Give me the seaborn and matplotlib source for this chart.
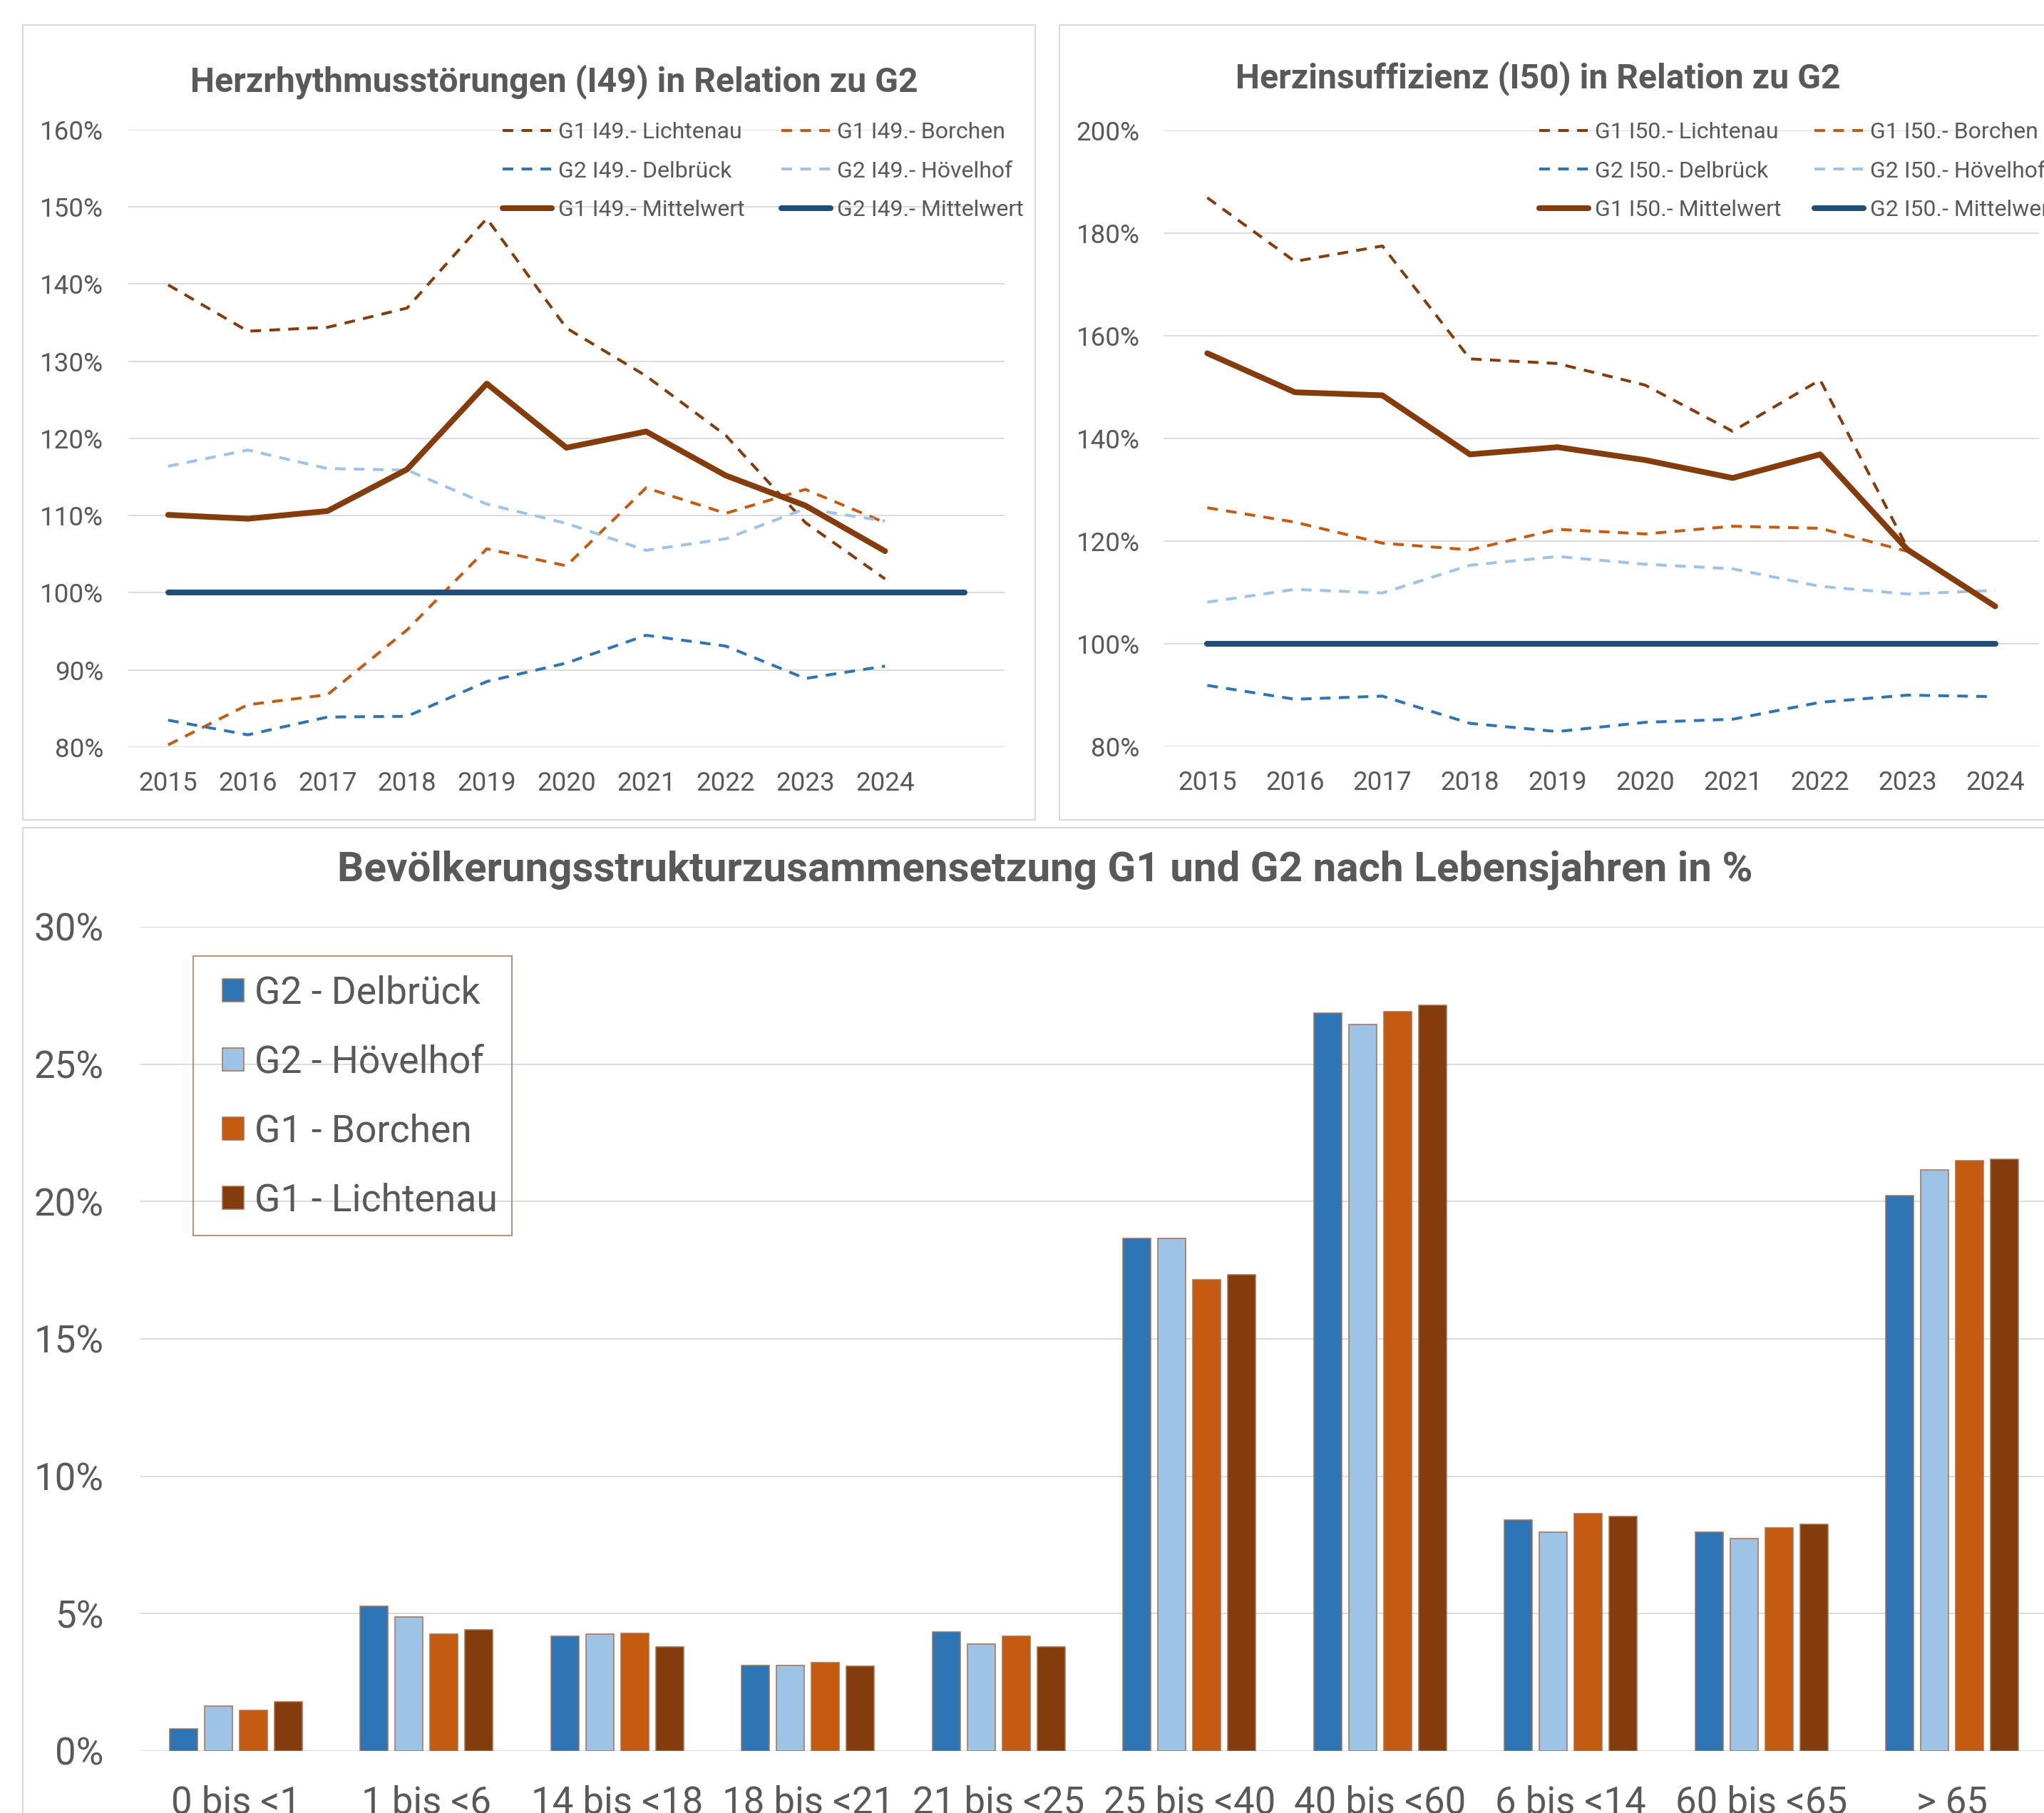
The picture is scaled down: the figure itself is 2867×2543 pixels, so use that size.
import numpy as np
import pandas as pd
import matplotlib
matplotlib.use("Agg")
import matplotlib.pyplot as plt
from matplotlib.patches import Rectangle, Patch
from matplotlib.ticker import PercentFormatter, MultipleLocator
import seaborn as sns

# ------------------------------------------------------------------ data
years = ["2015", "2016", "2017", "2018", "2019", "2020", "2021", "2022", "2023", "2024"]
i49_ticklabels = years + [""]

i49_lichtenau = [139.9, 133.9, 134.4, 136.9, 148.5, 134.3, 128.1, 120.4, 109.1, 101.8]
i49_borchen = [80.3, 85.5, 86.8, 95.2, 105.7, 103.5, 113.6, 110.3, 113.4, 109.1]
i49_delbrueck = [83.5, 81.6, 83.9, 84.0, 88.5, 90.9, 94.5, 93.1, 88.9, 90.5]
i49_hoevelhof = [116.4, 118.5, 116.1, 115.9, 111.5, 109.0, 105.5, 107.0, 110.9, 109.3]
i49_g1_mittel = [110.1, 109.6, 110.6, 116.0, 127.1, 118.8, 120.9, 115.2, 111.3, 105.4]
i49_g2_mittel = [100.0, 100.0, 100.0, 100.0, 100.0, 100.0, 100.0, 100.0, 100.0, 100.0, 100.0]

i50_lichtenau = [186.9, 174.5, 177.5, 155.5, 154.6, 150.4, 141.4, 151.4, 118.6, 107.3]
i50_borchen = [126.5, 123.7, 119.6, 118.3, 122.3, 121.4, 122.9, 122.5, 118.0, 107.3]
i50_delbrueck = [91.9, 89.2, 89.8, 84.5, 82.9, 84.7, 85.3, 88.6, 90.0, 89.7]
i50_hoevelhof = [108.1, 110.6, 109.9, 115.3, 117.0, 115.5, 114.6, 111.2, 109.7, 110.4]
i50_g1_mittel = [156.6, 149.0, 148.4, 136.9, 138.3, 135.8, 132.3, 136.9, 118.3, 107.3]
i50_g2_mittel = [100.0, 100.0, 100.0, 100.0, 100.0, 100.0, 100.0, 100.0, 100.0, 100.0]

age_groups = ["0 bis <1", "1 bis <6", "14 bis <18", "18 bis <21", "21 bis <25",
              "25 bis <40", "40 bis <60", "6 bis <14", "60 bis <65", "> 65"]
bar_series = ["G2 - Delbrück", "G2 - Hövelhof", "G1 - Borchen", "G1 - Lichtenau"]
pop_delbrueck = [0.81, 5.26, 4.18, 3.12, 4.34, 18.65, 26.86, 8.40, 7.96, 20.22]
pop_hoevelhof = [1.64, 4.87, 4.25, 3.12, 3.90, 18.67, 26.45, 7.96, 7.73, 21.14]
pop_borchen = [1.48, 4.25, 4.29, 3.23, 4.18, 17.15, 26.91, 8.63, 8.12, 21.49]
pop_lichtenau = [1.80, 4.41, 3.78, 3.09, 3.78, 17.33, 27.14, 8.54, 8.24, 21.53]

# ------------------------------------------------------------------ style
C_LICHTENAU = "#843C0C"
C_BORCHEN = "#C55A11"
C_DELBRUECK = "#2E75B6"
C_HOEVELHOF = "#9DC3E6"
C_G2MEAN = "#1F4E79"
TEXT = "#595959"
GRID = "#D9D9D9"

sns.set_style("white")
plt.rcParams["font.family"] = ["Roboto", "DejaVu Sans"]
plt.rcParams["text.color"] = TEXT

W, H = 2867, 2543
DPI = 100
fig = plt.figure(figsize=(W / DPI, H / DPI), dpi=DPI)
fig.patch.set_facecolor("white")


def px_axes(x0, y0, x1, y1):
    return fig.add_axes([x0 / W, 1 - y1 / H, (x1 - x0) / W, (y1 - y0) / H])


def px_frame(x0, y0, x1, y1, color, lw):
    fig.patches.append(Rectangle((x0 / W, 1 - y1 / H), (x1 - x0) / W, (y1 - y0) / H,
                                 transform=fig.transFigure, fill=False,
                                 edgecolor=color, linewidth=lw, zorder=0))


# chart-area borders
px_frame(32, 35, 1452, 1150, GRID, 1.5)
px_frame(1486, 35, 2920, 1150, GRID, 1.5)
px_frame(32, 1161, 2920, 2600, GRID, 1.5)

DASH = (0, (3.7, 2.9))


def style_axes(ax, ylabel_pad, xlabel_pad, labelsize):
    for s in ax.spines.values():
        s.set_visible(False)
    ax.set_axisbelow(True)
    ax.yaxis.grid(True, color=GRID, linewidth=1.3)
    ax.xaxis.grid(False)
    ax.tick_params(axis="y", length=0, pad=ylabel_pad, labelsize=labelsize, labelcolor=TEXT)
    ax.tick_params(axis="x", length=0, pad=xlabel_pad, labelsize=labelsize, labelcolor=TEXT)
    ax.set_xlabel("")
    ax.set_ylabel("")


def line_panel(ax, code, lichtenau, borchen, delbrueck, hoevelhof, g1m, g2m,
               ticklabels, ylim, ystep, ypad, legend_x, colspace):
    specs = [
        (lichtenau, C_LICHTENAU, 2.9, DASH, f"G1 {code}.- Lichtenau"),
        (borchen, C_BORCHEN, 2.9, DASH, f"G1 {code}.- Borchen"),
        (delbrueck, C_DELBRUECK, 2.9, DASH, f"G2 {code}.- Delbrück"),
        (hoevelhof, C_HOEVELHOF, 2.9, DASH, f"G2 {code}.- Hövelhof"),
        (g1m, C_LICHTENAU, 5.8, "-", f"G1 {code}.- Mittelwert"),
        (g2m, C_G2MEAN, 5.8, "-", f"G2 {code}.- Mittelwert"),
    ]
    for vals, col, lw, ls, lab in specs:
        sns.lineplot(x=np.arange(len(vals)), y=vals, ax=ax, color=col, linewidth=lw,
                     linestyle=ls, solid_capstyle="round", legend=False)
    ax.set_xlim(-0.5, len(ticklabels) - 0.5)
    ax.set_xticks(np.arange(len(ticklabels)))
    ax.set_xticklabels(ticklabels)
    ax.set_ylim(*ylim)
    ax.yaxis.set_major_locator(MultipleLocator(ystep))
    ax.yaxis.set_major_formatter(PercentFormatter(xmax=100, decimals=0))
    style_axes(ax, ypad, 24, 26.5)

    lines = ax.get_lines()
    labels = [s[4] for s in specs]
    order = [0, 2, 4, 1, 3, 5]
    ax.legend([lines[i] for i in order], [labels[i] for i in order], ncol=2,
              loc="upper left", bbox_to_anchor=(legend_x / W, 1 - 171 / H),
              bbox_transform=fig.transFigure, frameon=False, fontsize=23,
              handlelength=2.16, handletextpad=0.28, columnspacing=colspace,
              labelspacing=0.80, borderpad=0, borderaxespad=0, labelcolor=TEXT)


# ------------------------------------------------------------------ I49 panel
ax1 = px_axes(180, 182, 1409, 1048)
line_panel(ax1, "I49", i49_lichtenau, i49_borchen, i49_delbrueck, i49_hoevelhof,
           i49_g1_mittel, i49_g2_mittel, i49_ticklabels, (80, 160), 10, 25, 705, 1.6)
fig.text(777 / W, 1 - 128 / H, "Herzrhythmusstörungen (I49) in Relation zu G2",
         ha="center", va="baseline", fontsize=34.7, fontweight="bold", color=TEXT)

# ------------------------------------------------------------------ I50 panel
ax2 = px_axes(1632, 183, 2860, 1047)
line_panel(ax2, "I50", i50_lichtenau, i50_borchen, i50_delbrueck, i50_hoevelhof,
           i50_g1_mittel, i50_g2_mittel, years, (80, 200), 20, 24, 2159, 1.45)
fig.text(2157 / W, 1 - 123 / H, "Herzinsuffizienz (I50) in Relation zu G2",
         ha="center", va="baseline", fontsize=34.7, fontweight="bold", color=TEXT)

# ------------------------------------------------------------------ population bars
pop = pd.DataFrame({
    "Altersgruppe": age_groups * 4,
    "Gemeinde": [s for s in bar_series for _ in age_groups],
    "Anteil": pop_delbrueck + pop_hoevelhof + pop_borchen + pop_lichtenau,
})

ax3 = px_axes(197, 1300, 2872, 2456)
bar_colors = [C_DELBRUECK, C_HOEVELHOF, C_BORCHEN, C_LICHTENAU]
sns.barplot(data=pop, x="Altersgruppe", y="Anteil", hue="Gemeinde",
            order=age_groups, hue_order=bar_series, palette=bar_colors,
            saturation=1, width=0.733, gap=0.2, errorbar=None,
            edgecolor="#A8704E", linewidth=1.1, legend=False, ax=ax3)
ax3.set_xlim(-0.5, len(age_groups) - 0.5)
ax3.set_ylim(0, 30)
ax3.yaxis.set_major_locator(MultipleLocator(5))
ax3.yaxis.set_major_formatter(PercentFormatter(xmax=100, decimals=0))
style_axes(ax3, 37, 34, 38)

handles = [Patch(facecolor=c, edgecolor="#A8704E", linewidth=1.1) for c in bar_colors]
ax3.legend(handles, bar_series, loc="upper left",
           bbox_to_anchor=(312 / W, 1 - 1368 / H), bbox_transform=fig.transFigure,
           frameon=False, fontsize=38.5, handlelength=0.56, handleheight=0.56,
           handletextpad=0.28, labelspacing=0.86, borderpad=0, borderaxespad=0,
           labelcolor=TEXT)
px_frame(271, 1341, 718, 1733, "#BA8461", 1.3)

fig.text(1466 / W, 1 - 1235 / H,
         "Bevölkerungsstrukturzusammensetzung G1 und G2 nach Lebensjahren in %",
         ha="center", va="baseline", fontsize=42, fontweight="bold", color=TEXT)

fig.savefig("out.png", dpi=DPI, facecolor="white")
